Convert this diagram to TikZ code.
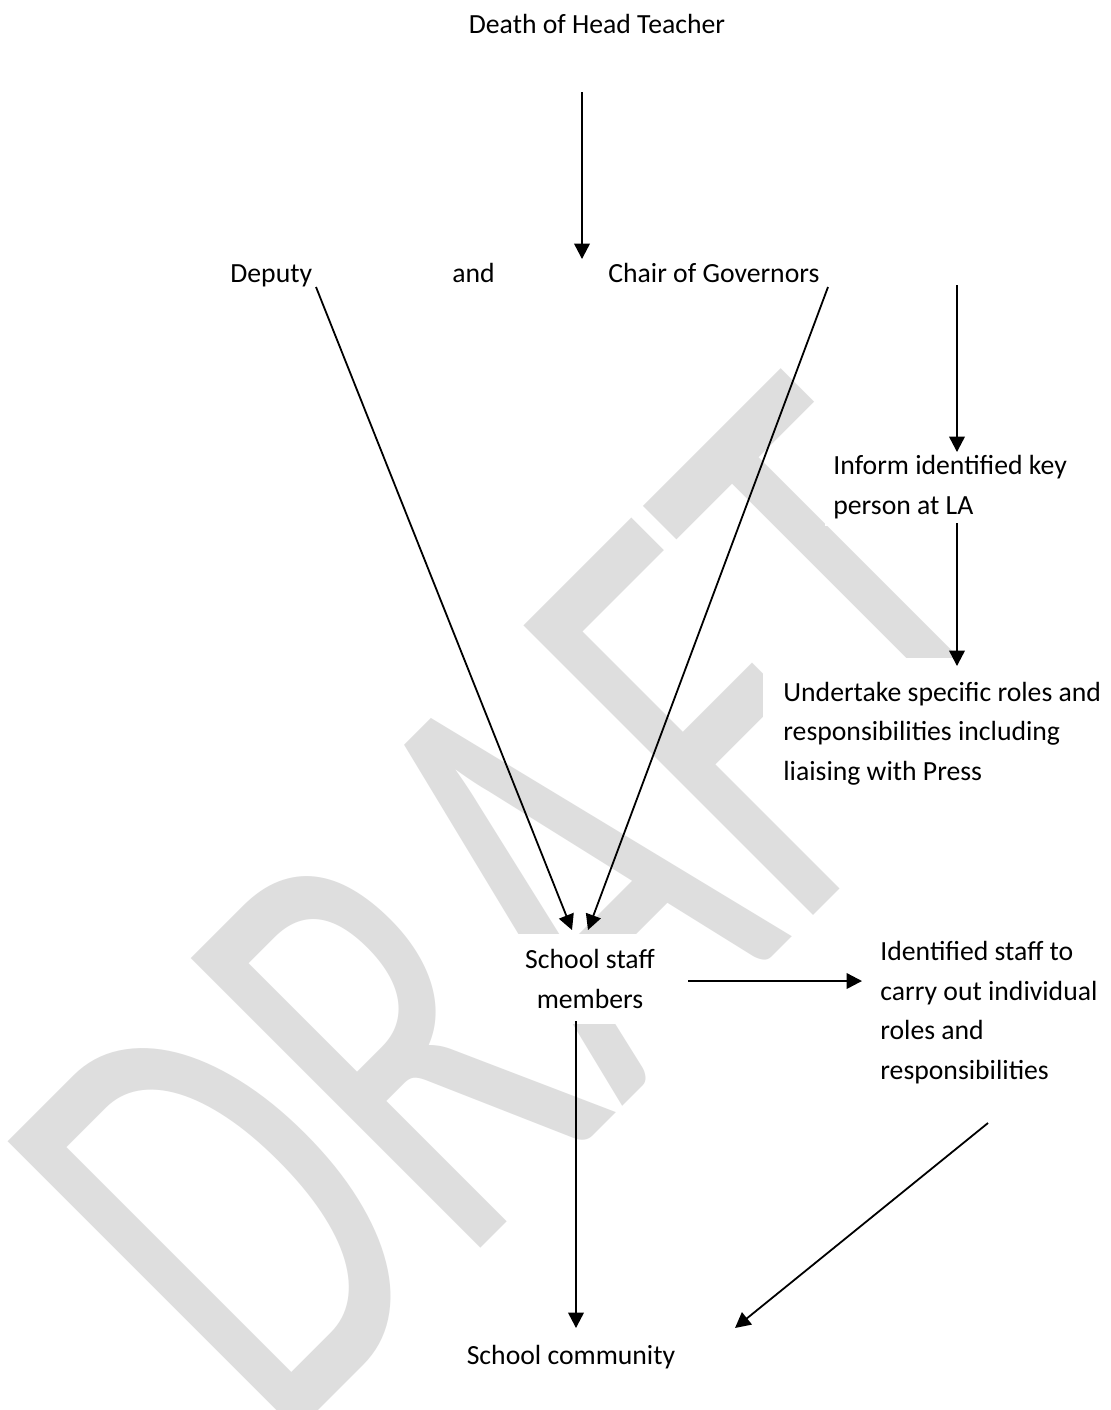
\documentclass[tikz,border=0pt]{standalone}
\usepackage{fontspec}
\setmainfont{Carlito}
\usetikzlibrary{arrows.meta}

\definecolor{wmgray}{RGB}{222,222,222}
\tikzset{
  wmark/.style={rotate=45,yscale=1.52,anchor=base west,inner sep=0pt,text=wmgray,
    font=\fontsize{210}{210}\selectfont},
  bigbox/.style={inner xsep=10pt,inner ysep=12pt}
}

\begin{document}
\begin{tikzpicture}[x=0.5pt,y=-0.5pt]
      \useasboundingbox (0,0) rectangle (1111,1410);
      \fill[white] (0,0) rectangle (1111,1410);

      \node[wmark] (wm) at (277,1452) {DRAFT};

      \begin{scope}[every node/.style={fill=white,inner sep=4pt,
          font=\fontsize{13.85}{19.75}\selectfont}]
        \node[anchor=base] (1) at (597,33) {Death of Head Teacher};
        \node[anchor=base west] (2) at (222,282) {Deputy};
        \node[anchor=base west] (3) at (444,282) {and};
        \node[anchor=base west] (4) at (600,282) {Chair of Governors};
        \node[anchor=base west,align=left] (5) at (825,514)
          {Inform identified key\\person at LA};
        \node[anchor=base west,align=left,bigbox] (6) at (763,780)
          {Undertake specific roles and\\responsibilities including\\liaising with Press};
        \node[align=center,inner xsep=16pt,inner ysep=8pt] (7) at (590,979)
          {School staff\\members};
        \node[anchor=base west,align=left] (8) at (872,1079)
          {Identified staff to\\carry out individual\\roles and\\responsibilities};
        \node[anchor=base] (9) at (571,1364) {School community};
      \end{scope}

      \coordinate (1s) at (582,92);   \coordinate (1e) at (582,259);
      \coordinate (2s) at (316,287);  \coordinate (2e) at (572,930);
      \coordinate (4s) at (828,287);  \coordinate (4e) at (588,930);
      \coordinate (5s) at (957,285);  \coordinate (5e) at (957,452);
      \coordinate (6s) at (957,523);  \coordinate (6e) at (957,666);
      \coordinate (7s) at (688,981);  \coordinate (7e) at (862,981);
      \coordinate (8s) at (576,1021); \coordinate (8e) at (576,1328);
      \coordinate (9s) at (988,1123); \coordinate (9e) at (735,1328);

      \begin{scope}[every edge/.style={draw,line width=0.9pt,
          -{Triangle[length=7.7pt,width=7.8pt]}}]
        \path (1s) edge (1e);
        \path (2s) edge (2e);
        \path (4s) edge (4e);
        \path (5s) edge (5e);
        \path (6s) edge (6e);
        \path (7s) edge (7e);
        \path (8s) edge (8e);
        \path (9s) edge (9e);
      \end{scope}

    \end{tikzpicture}
\end{document}
